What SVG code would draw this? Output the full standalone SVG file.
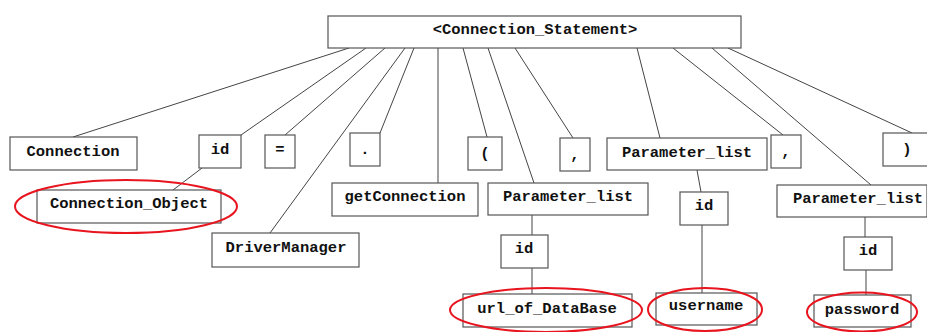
<svg xmlns="http://www.w3.org/2000/svg" width="927" height="332" viewBox="0 0 927 332">
<style>
.box{fill:#fff;stroke:#555;stroke-width:1.2}
.t{font-family:"Liberation Mono","Courier New",monospace;font-weight:bold;font-size:15.5px;fill:#111;text-anchor:middle;dominant-baseline:central}
.ln{stroke:#444;stroke-width:1;fill:none}
.hl{fill:none;stroke:#e8141e;stroke-width:2}
</style>
<rect width="927" height="332" fill="#fff"/>
<g id="connectors">
<line class="ln" x1="349" y1="48" x2="73" y2="137"/>
<line class="ln" x1="366" y1="48" x2="241" y2="135"/>
<line class="ln" x1="385" y1="48" x2="285" y2="135"/>
<line class="ln" x1="405" y1="48" x2="270" y2="233"/>
<line class="ln" x1="414" y1="48" x2="380" y2="133"/>
<line class="ln" x1="438" y1="48" x2="438" y2="183"/>
<line class="ln" x1="463" y1="48" x2="487" y2="137"/>
<line class="ln" x1="488" y1="48" x2="534" y2="183"/>
<line class="ln" x1="515" y1="48" x2="573" y2="138"/>
<line class="ln" x1="637" y1="48" x2="660" y2="138"/>
<line class="ln" x1="673" y1="48" x2="783" y2="135"/>
<line class="ln" x1="712" y1="48" x2="871" y2="185"/>
<line class="ln" x1="728" y1="48" x2="912" y2="133"/>
<line class="ln" x1="202" y1="168" x2="173" y2="190"/>
<line class="ln" x1="532" y1="215" x2="532" y2="235"/>
<line class="ln" x1="532" y1="268" x2="532" y2="294"/>
<line class="ln" x1="697" y1="170" x2="701" y2="192"/>
<line class="ln" x1="702" y1="225" x2="702" y2="293"/>
<line class="ln" x1="865" y1="217" x2="865" y2="237"/>
<line class="ln" x1="866" y1="270" x2="866" y2="295"/>
</g>
<g id="root"><rect class="box" x="328" y="16" width="413" height="32"/><text class="t" x="535" y="30">&lt;Connection_Statement&gt;</text></g>
<g id="n-connection"><rect class="box" x="10" y="137" width="127" height="33"/><text class="t" x="73" y="152">Connection</text></g>
<g id="n-id1"><rect class="box" x="199" y="135" width="42" height="33"/><text class="t" x="220" y="150">id</text></g>
<g id="n-eq"><rect class="box" x="265" y="135" width="30" height="33"/><text class="t" x="280" y="150">=</text></g>
<g id="n-dot"><rect class="box" x="350" y="133" width="30" height="33"/><text class="t" x="365" y="150">.</text></g>
<g id="n-lparen"><rect class="box" x="468" y="137" width="34" height="33"/><text class="t" x="485" y="154">(</text></g>
<g id="n-comma1"><rect class="box" x="560" y="138" width="30" height="33"/><text class="t" x="575" y="155">,</text></g>
<g id="n-plist2"><rect class="box" x="607" y="138" width="160" height="32"/><text class="t" x="687" y="153">Parameter_list</text></g>
<g id="n-comma2"><rect class="box" x="771" y="135" width="30" height="33"/><text class="t" x="786" y="152">,</text></g>
<g id="n-rparen"><rect class="box" x="883" y="133" width="50" height="33"/><text class="t" x="907" y="150">)</text></g>
<g id="n-connobj"><rect class="box" x="37" y="190" width="184" height="33"/><text class="t" x="129" y="204">Connection_Object</text><ellipse class="hl" cx="126" cy="206.5" rx="111" ry="26.5"/></g>
<g id="n-driver"><rect class="box" x="212" y="233" width="147" height="34"/><text class="t" x="286" y="248">DriverManager</text></g>
<g id="n-getconn"><rect class="box" x="332" y="183" width="146" height="33"/><text class="t" x="405" y="197">getConnection</text></g>
<g id="n-plist1"><rect class="box" x="488" y="183" width="160" height="32"/><text class="t" x="568" y="197">Parameter_list</text></g>
<g id="n-id2"><rect class="box" x="501" y="235" width="47" height="33"/><text class="t" x="524" y="249">id</text></g>
<g id="n-url"><rect class="box" x="463" y="294" width="169" height="33"/><text class="t" x="547" y="309">url_of_DataBase</text><ellipse class="hl" cx="546" cy="310" rx="96" ry="22"/></g>
<g id="n-id3"><rect class="box" x="680" y="192" width="48" height="33"/><text class="t" x="704" y="206">id</text></g>
<g id="n-username"><rect class="box" x="656" y="293" width="101" height="32"/><text class="t" x="706" y="306">username</text><ellipse class="hl" cx="705" cy="309.5" rx="57" ry="21.5"/></g>
<g id="n-plist3"><rect class="box" x="777" y="185" width="150" height="32"/><text class="t" x="858" y="199">Parameter_list</text></g>
<g id="n-id4"><rect class="box" x="844" y="237" width="48" height="33"/><text class="t" x="868" y="251">id</text></g>
<g id="n-password"><rect class="box" x="814" y="295" width="97" height="32"/><text class="t" x="862" y="310">password</text><ellipse class="hl" cx="862" cy="312" rx="55" ry="19.5"/></g>
</svg>
